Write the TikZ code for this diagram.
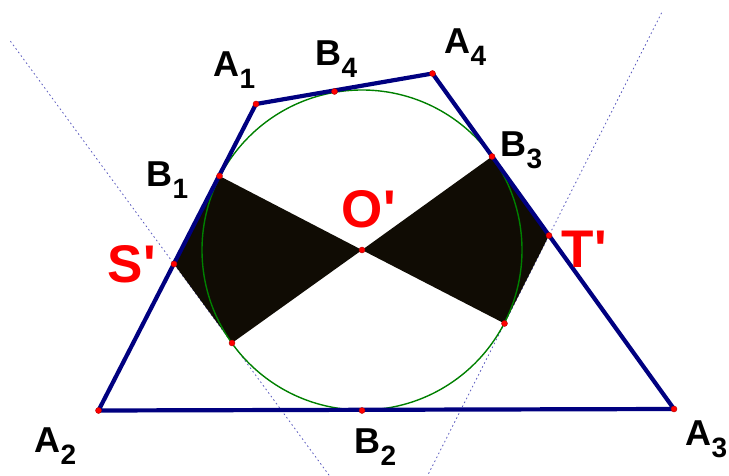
\documentclass[tikz,border=0pt]{standalone}
\usepackage{fontspec}
\setmainfont{Liberation Sans}
\usetikzlibrary{calc}
\definecolor{navyline}{RGB}{0,0,128}
\definecolor{circgreen}{RGB}{0,128,0}
\definecolor{dotblue}{RGB}{90,90,190}
\definecolor{shade}{RGB}{16,12,4}
\definecolor{ptred}{RGB}{255,0,0}
\newcommand{\plab}[2]{\fontsize{36}{36}\selectfont\bfseries #1\kern0.5pt\raisebox{-12pt}{\fontsize{28}{28}\selectfont #2}}
\newcommand{\rlab}[1]{\fontsize{53}{53}\selectfont\bfseries #1\kern1pt\textquotesingle}
\begin{document}
\begin{tikzpicture}[x=1pt,y=-1pt,
  side/.style={draw=navyline,line width=4.2pt,line join=round},
  incirc/.style={draw=circgreen,line width=1.4pt},
  guide/.style={draw=dotblue,line width=0.8pt,dash pattern=on 1.6pt off 2.8pt},
  region/.style={fill=shade},
  pt/.style={fill=ptred,draw=ptred!70!black,line width=0.4pt},
  blab/.style={anchor=base west,inner sep=0pt,text=black},
  redlab/.style={anchor=base west,inner sep=0pt,text=ptred}]
\useasboundingbox (0,0) rectangle (729,476);
% points
\coordinate (O) at (362,250);
\coordinate (A1) at (256,104);
\coordinate (A4) at (432.5,73.5);
\coordinate (A3) at (674,409);
\coordinate (A2) at (98.5,410.5);
\coordinate (B1) at (219.5,176);
\coordinate (B2) at (362,410.5);
\coordinate (B3) at (492,156.5);
\coordinate (B4) at (334.5,91.5);
\coordinate (S) at (174,264);
\coordinate (T) at (549,235.5);
\coordinate (P) at (232,343);
\coordinate (Q) at (504.5,323.5);
% guide lines
\coordinate (gl1) at ($(S)!-2.82!(P)$);
\coordinate (gl2) at ($(S)!2.7!(P)$);
\coordinate (gr1) at ($(T)!-2.53!(Q)$);
\coordinate (gr2) at ($(T)!2.75!(Q)$);
\draw[guide] (gl1) -- (gl2);
\draw[guide] (gr1) -- (gr2);
% shaded regions
\fill[region] (B1) -- (S) -- (P) -- (O) -- cycle;
\fill[region] (B3) -- (T) -- (Q) -- (O) -- cycle;
% incircle
\draw[incirc] (O) circle[radius=160pt];
% tangential quadrilateral
\draw[side] (A1) -- (A4) -- (A3) -- (A2) -- cycle;
% points
\foreach \p in {A1,A2,A3,A4,B1,B2,B3,B4,S,T,O,P,Q}
  \fill[pt] (\p) circle[radius=3pt];
% labels
\node[blab] (lA1) at (213,77) {\plab{A}{1}};
\node[blab] (lB4) at (315,66) {\plab{B}{4}};
\node[blab] (lA4) at (444,54) {\plab{A}{4}};
\node[blab] (lB1) at (146,187) {\plab{B}{1}};
\node[blab] (lB3) at (500,157) {\plab{B}{3}};
\node[blab] (lA2) at (34,452) {\plab{A}{2}};
\node[blab] (lB2) at (354,453) {\plab{B}{2}};
\node[blab] (lA3) at (685,445) {\plab{A}{3}};
\node[redlab] (lS) at (107,283) {\rlab{S}};
\node[redlab] (lO) at (341,228) {\rlab{O}};
\node[redlab] (lT) at (561,267) {\rlab{T}};
\end{tikzpicture}
\end{document}
